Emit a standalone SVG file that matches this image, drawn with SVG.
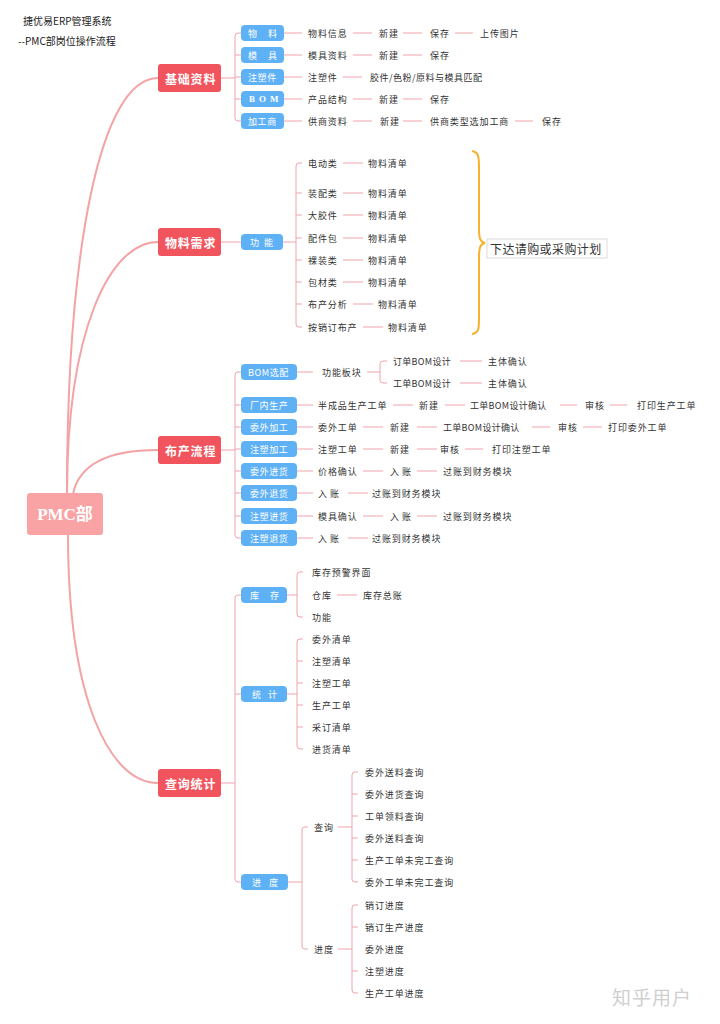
<svg xmlns="http://www.w3.org/2000/svg" width="720" height="1024" viewBox="0 0 720 1024">
<style>
.main{fill:none;stroke:#f4a3a5;stroke-width:2;stroke-linecap:round}
.l{fill:none;stroke:#f0a3ab;stroke-width:1}
.red{fill:#f2545d}
.blue{fill:#5fb1f5}
.root{fill:#f9a3a5}
text{font-family:"Noto Sans CJK SC","Noto Sans",sans-serif;dominant-baseline:central}
.t{font-size:9px;fill:#333;letter-spacing:0.9px}
.bt{font-size:9px;fill:#fff;letter-spacing:0.6px}
.rt{font-size:12px;fill:#fff;letter-spacing:0.8px;font-weight:bold}
.ti{font-size:10px;fill:#222}
.rootT{font-family:"Liberation Serif","Noto Sans CJK SC",serif;font-size:17px;font-weight:bold;fill:#fff}
</style>
<rect width="720" height="1024" fill="#fff"/>
<g id="title">
<text class="ti" x="23" y="20">捷优易ERP管理系统</text>
<text class="ti" x="18" y="40">--PMC部岗位操作流程</text>
</g>
<g id="connectors">
<path class="main" d="M67,494 C67,250 100,78 158,78"/>
<path class="main" d="M67,494 C67,330 110,242 158,242"/>
<path class="main" d="M73,494 C80,460 115,450 158,450"/>
<path class="main" d="M68,534 C68,700 110,783 158,783"/>
<path class="l" d="M221,78 H235 M241,33 H238 Q235,33 235,36 V118 Q235,121 238,121 H241 M235,55 H241 M235,77 H241 M235,99 H241"/>
<path class="l" d="M284,33 H302 M284,55 H302 M284,77 H302 M284,99 H302 M284,121 H302"/>
<path class="l" d="M353,33 H372 M403,33 H422 M455,33 H473"/>
<path class="l" d="M353,55 H372 M403,55 H422"/>
<path class="l" d="M343,77 H362"/>
<path class="l" d="M353,99 H372 M403,99 H422"/>
<path class="l" d="M353,121 H372 M403,121 H422 M515,121 H533"/>
<path class="l" d="M221,242 H241 M283,242 H296"/>
<path class="l" d="M302,163 H299 Q296,163 296,166 V324 Q296,327 299,327 H302 M296,193 H302 M296,215 H302 M296,238 H302 M296,260 H302 M296,282 H302 M296,304 H302"/>
<path class="l" d="M343,163 H363 M343,193 H363 M343,215 H363 M343,238 H363 M343,260 H363 M343,282 H363 M353,304 H373 M363,327 H383"/>
<path class="l" d="M221,450 H235 M241,372 H238 Q235,372 235,375 V535 Q235,538 238,538 H241 M235,405 H241 M235,427 H241 M235,449 H241 M235,471 H241 M235,493 H241 M235,516 H241"/>
<path class="l" d="M297,372 H313 M297,405 H313 M297,427 H313 M297,449 H313 M297,471 H313 M297,493 H313 M297,516 H313 M297,538 H313"/>
<path class="l" d="M367,372 H380 M387,361 H383 Q380,361 380,364 V380 Q380,383 383,383 H387 M460,361 H482 M460,383 H482"/>
<path class="l" d="M393,405 H413 M445,405 H465 M560,405 H577 M610,405 H627"/>
<path class="l" d="M363,427 H383 M417,427 H437 M532,427 H550 M583,427 H602"/>
<path class="l" d="M363,449 H383 M417,449 H437 M465,449 H483"/>
<path class="l" d="M363,471 H383 M417,471 H437"/>
<path class="l" d="M348,493 H368"/>
<path class="l" d="M363,516 H383 M417,516 H437"/>
<path class="l" d="M348,538 H368"/>
<path class="l" d="M221,783 H235 M241,595 H238 Q235,595 235,598 V879 Q235,882 238,882 H241 M235,694 H241"/>
<path class="l" d="M287,595 H297 M303,572 H300 Q297,572 297,575 V614 Q297,617 300,617 H303 M337,595 H357"/>
<path class="l" d="M287,694 H297 M303,639 H300 Q297,639 297,642 V746 Q297,749 300,749 H303 M297,661 H303 M297,683 H303 M297,705 H303 M297,727 H303"/>
<path class="l" d="M288,882 H302 M308,827 H305 Q302,827 302,830 V946 Q302,949 305,949 H308"/>
<path class="l" d="M338,827 H352 M358,772 H355 Q352,772 352,775 V879 Q352,882 355,882 H358 M352,794 H358 M352,816 H358 M352,838 H358 M352,860 H358"/>
<path class="l" d="M338,949 H352 M358,905 H355 Q352,905 352,908 V990 Q352,993 355,993 H358 M352,927 H358 M352,971 H358"/>
<path d="M472,151 C479,152 479,158 479,168 L479,228 C479,238 480,242 485,243 C480,244 479,248 479,258 L479,318 C479,328 479,333 472,334" fill="none" stroke="#f5b22c" stroke-width="2"/>
</g>
<g id="root">
<rect class="root" x="27" y="493" width="76" height="42" rx="3"/>
<text class="rootT" x="65" y="514" text-anchor="middle">PMC部</text>
</g>
<g id="n-jichu">
<rect class="red" x="158" y="64" width="63" height="28" rx="3"/>
<text class="rt" x="165" y="78">基础资料</text>
</g>
<g id="n-jichu-children">
<rect class="blue" x="241" y="25" width="43" height="16" rx="4"/><text class="bt" x="248" y="33" style="letter-spacing:11px">物料</text>
<rect class="blue" x="241" y="47" width="43" height="16" rx="4"/><text class="bt" x="248" y="55" style="letter-spacing:11px">模具</text>
<rect class="blue" x="241" y="69" width="43" height="16" rx="4"/><text class="bt" x="248" y="77">注塑件</text>
<rect class="blue" x="241" y="91" width="43" height="16" rx="4"/><text class="bt" x="249" y="99" style="letter-spacing:4px;font-family:'Liberation Serif',serif;font-weight:bold">BOM</text>
<rect class="blue" x="241" y="113" width="43" height="16" rx="4"/><text class="bt" x="248" y="121">加工商</text>
<text class="t" x="308" y="33">物料信息</text><text class="t" x="379" y="33">新建</text><text class="t" x="430" y="33">保存</text><text class="t" x="480" y="33">上传图片</text>
<text class="t" x="308" y="55">模具资料</text><text class="t" x="379" y="55">新建</text><text class="t" x="430" y="55">保存</text>
<text class="t" x="308" y="77">注塑件</text><text class="t" x="370" y="77" style="letter-spacing:0.5px">胶件/色粉/原料与模具匹配</text>
<text class="t" x="308" y="99">产品结构</text><text class="t" x="379" y="99">新建</text><text class="t" x="430" y="99">保存</text>
<text class="t" x="308" y="121">供商资料</text><text class="t" x="380" y="121">新建</text><text class="t" x="430" y="121">供商类型选加工商</text><text class="t" x="542" y="121">保存</text>
</g>
<g id="n-wuliao">
<rect class="red" x="158" y="228" width="63" height="28" rx="3"/>
<text class="rt" x="165" y="242">物料需求</text>
</g>
<g id="n-wuliao-children">
<rect class="blue" x="241" y="234" width="42" height="16" rx="4"/><text class="bt" x="250" y="242" style="letter-spacing:5px">功能</text>
<text class="t" x="308" y="163">电动类</text><text class="t" x="368" y="163">物料清单</text>
<text class="t" x="308" y="193">装配类</text><text class="t" x="368" y="193">物料清单</text>
<text class="t" x="308" y="215">大胶件</text><text class="t" x="368" y="215">物料清单</text>
<text class="t" x="308" y="238">配件包</text><text class="t" x="368" y="238">物料清单</text>
<text class="t" x="308" y="260">裸装类</text><text class="t" x="368" y="260">物料清单</text>
<text class="t" x="308" y="282">包材类</text><text class="t" x="368" y="282">物料清单</text>
<text class="t" x="308" y="304">布产分析</text><text class="t" x="378" y="304">物料清单</text>
<text class="t" x="308" y="327">按销订布产</text><text class="t" x="388" y="327">物料清单</text>
</g>
<g id="n-summary">
<rect x="487" y="239" width="120" height="19" fill="#fff" stroke="#dcdcdc" stroke-width="1"/>
<text x="490" y="248.5" font-size="12" fill="#333" style="letter-spacing:0.4px">下达请购或采购计划</text>
</g>
<g id="n-buchan">
<rect class="red" x="158" y="436" width="63" height="28" rx="3"/>
<text class="rt" x="165" y="450">布产流程</text>
</g>
<g id="n-buchan-children">
<rect class="blue" x="241" y="364" width="56" height="16" rx="4"/><text class="bt" x="248" y="372">BOM选配</text>
<rect class="blue" x="241" y="397" width="56" height="16" rx="4"/><text class="bt" x="250" y="405">厂内生产</text>
<rect class="blue" x="241" y="419" width="56" height="16" rx="4"/><text class="bt" x="250" y="427">委外加工</text>
<rect class="blue" x="241" y="441" width="56" height="16" rx="4"/><text class="bt" x="250" y="449">注塑加工</text>
<rect class="blue" x="241" y="463" width="56" height="16" rx="4"/><text class="bt" x="250" y="471">委外进货</text>
<rect class="blue" x="241" y="485" width="56" height="16" rx="4"/><text class="bt" x="250" y="493">委外退货</text>
<rect class="blue" x="241" y="508" width="56" height="16" rx="4"/><text class="bt" x="250" y="516">注塑进货</text>
<rect class="blue" x="241" y="530" width="56" height="16" rx="4"/><text class="bt" x="250" y="538">注塑退货</text>
<text class="t" x="322" y="372">功能板块</text>
<text class="t" x="393" y="361" style="letter-spacing:0.3px">订单BOM设计</text><text class="t" x="488" y="361">主体确认</text>
<text class="t" x="393" y="383" style="letter-spacing:0.3px">工单BOM设计</text><text class="t" x="488" y="383">主体确认</text>
<text class="t" x="318" y="405">半成品生产工单</text><text class="t" x="419" y="405">新建</text><text class="t" x="470" y="405" style="letter-spacing:0.3px">工单BOM设计确认</text><text class="t" x="585" y="405">审核</text><text class="t" x="637" y="405">打印生产工单</text>
<text class="t" x="318" y="427">委外工单</text><text class="t" x="390" y="427">新建</text><text class="t" x="443" y="427" style="letter-spacing:0.3px">工单BOM设计确认</text><text class="t" x="558" y="427">审核</text><text class="t" x="608" y="427">打印委外工单</text>
<text class="t" x="318" y="449">注塑工单</text><text class="t" x="390" y="449">新建</text><text class="t" x="440" y="449">审核</text><text class="t" x="492" y="449">打印注塑工单</text>
<text class="t" x="318" y="471">价格确认</text><text class="t" x="390" y="471" style="letter-spacing:3px">入账</text><text class="t" x="443" y="471">过账到财务模块</text>
<text class="t" x="318" y="493" style="letter-spacing:3px">入账</text><text class="t" x="372" y="493">过账到财务模块</text>
<text class="t" x="318" y="516">模具确认</text><text class="t" x="390" y="516" style="letter-spacing:3px">入账</text><text class="t" x="443" y="516">过账到财务模块</text>
<text class="t" x="318" y="538" style="letter-spacing:3px">入账</text><text class="t" x="372" y="538">过账到财务模块</text>
</g>
<g id="n-chaxun">
<rect class="red" x="158" y="769" width="63" height="28" rx="3"/>
<text class="rt" x="165" y="783">查询统计</text>
</g>
<g id="n-chaxun-children">
<rect class="blue" x="241" y="587" width="46" height="16" rx="4"/><text class="bt" x="250" y="595" style="letter-spacing:11px">库存</text>
<rect class="blue" x="241" y="686" width="46" height="16" rx="4"/><text class="bt" x="252" y="694" style="letter-spacing:7px">统计</text>
<rect class="blue" x="241" y="874" width="47" height="16" rx="4"/><text class="bt" x="252" y="882" style="letter-spacing:8px">进度</text>
<text class="t" x="312" y="572">库存预警界面</text>
<text class="t" x="312" y="595">仓库</text><text class="t" x="363" y="595">库存总账</text>
<text class="t" x="312" y="617">功能</text>
<text class="t" x="312" y="639">委外清单</text>
<text class="t" x="312" y="661">注塑清单</text>
<text class="t" x="312" y="683">注塑工单</text>
<text class="t" x="312" y="705">生产工单</text>
<text class="t" x="312" y="727">采订清单</text>
<text class="t" x="312" y="749">进货清单</text>
<text class="t" x="314" y="827">查询</text>
<text class="t" x="314" y="949">进度</text>
<text class="t" x="365" y="772">委外送料查询</text>
<text class="t" x="365" y="794">委外进货查询</text>
<text class="t" x="365" y="816">工单领料查询</text>
<text class="t" x="365" y="838">委外送料查询</text>
<text class="t" x="365" y="860">生产工单未完工查询</text>
<text class="t" x="365" y="882">委外工单未完工查询</text>
<text class="t" x="365" y="905">销订进度</text>
<text class="t" x="365" y="927">销订生产进度</text>
<text class="t" x="365" y="949">委外进度</text>
<text class="t" x="365" y="971">注塑进度</text>
<text class="t" x="365" y="993">生产工单进度</text>
</g>
<g id="watermark">
<text x="612" y="996" font-size="19" fill="#cfcfcf" style="letter-spacing:1px">知乎用户</text>
</g>
</svg>
